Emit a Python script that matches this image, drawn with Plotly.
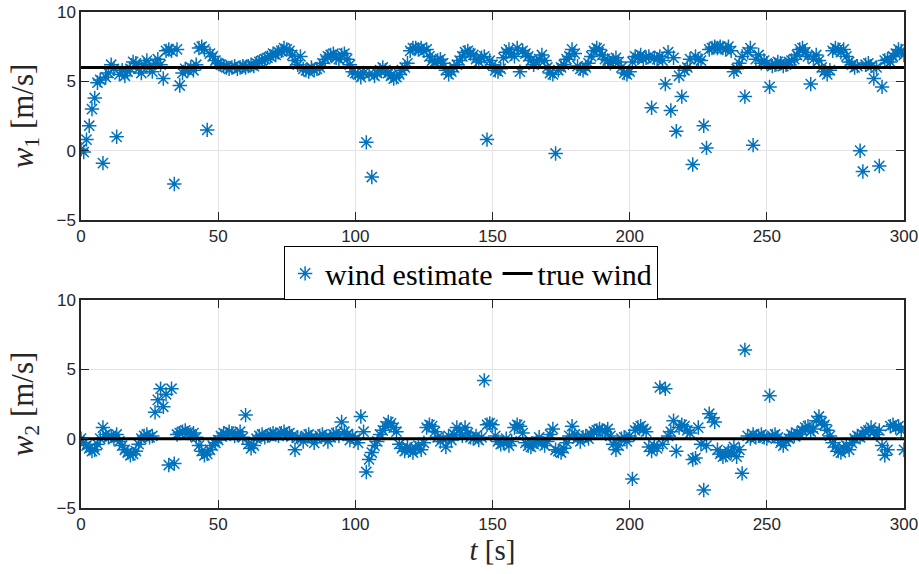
import plotly.graph_objects as go

t = list(range(0, 301))

w1_est = [
    0.1, -0.1, 0.8, 1.8, 3.0, 3.8, 4.9, 5.1, -0.9, 5.3,
    5.6, 6.2, 5.9, 1.0, 5.5, 5.8, 5.4, 5.7, 5.9, 6.4,
    6.3, 5.9, 5.6, 6.2, 6.5, 6.0, 5.7, 6.3, 6.6, 6.2,
    5.2, 7.2, 7.3, 7.2, -2.4, 7.3, 4.7, 5.6, 5.9, 5.8,
    6.0, 5.8, 6.2, 7.4, 7.5, 7.3, 1.5, 7.0, 6.8, 6.5,
    6.3, 6.2, 6.1, 6.0, 5.9, 6.0, 6.1, 5.9, 6.0, 6.1,
    6.0, 6.1, 6.2, 6.1, 6.3, 6.4, 6.5, 6.6, 6.7, 6.8,
    7.0, 6.9, 7.1, 7.2, 7.4, 7.3, 7.2, 6.9, 6.5, 6.2,
    6.8, 5.9, 5.8, 5.7, 6.0, 5.8, 5.9, 6.0, 6.3, 6.6,
    6.8, 6.9, 7.0, 6.7, 6.6, 6.9, 7.0, 6.6, 6.2, 5.7,
    5.6, 5.5, 5.3, 5.6, 0.6, 5.5, -1.9, 5.4, 5.6, 5.8,
    6.0, 5.8, 5.6, 5.4, 5.2, 5.3, 5.5, 5.8, 6.0, 6.3,
    7.2, 7.4, 7.4, 7.3, 7.4, 7.2, 7.3, 6.8, 6.5, 6.4,
    6.5, 6.6, 6.3, 5.8, 5.5, 5.7, 6.0, 6.2, 6.5, 6.8,
    7.1, 7.2, 7.0, 6.9, 6.6, 6.4, 6.7, 6.8, 0.8, 6.5,
    6.2, 5.8, 5.7, 5.9, 6.7, 7.1, 7.3, 7.0, 6.8, 7.4,
    5.7, 7.2, 7.0, 6.8, 6.5, 6.2, 6.4, 6.6, 6.9, 6.5,
    6.0, 5.6, 5.5, -0.2, 5.8, 6.0, 6.2, 6.6, 6.8, 7.3,
    7.0, 6.1, 5.9, 5.8, 6.0, 6.3, 6.8, 7.2, 7.4, 7.3,
    6.9, 6.6, 6.5, 6.3, 6.5, 6.7, 6.4, 6.0, 5.6, 5.5,
    5.7, 6.4, 6.8, 6.7, 6.9, 6.6, 6.7, 6.8, 3.1, 6.7,
    6.6, 6.8, 6.5, 4.8, 7.1, 2.9, 6.7, 1.4, 5.4, 3.9,
    5.8, 6.0, 6.6, -1.0, 6.8, 6.6, 6.5, 1.8, 0.2, 7.3,
    7.4, 7.5, 7.4, 7.5, 7.4, 7.3, 7.5, 7.2, 5.7, 5.9,
    6.3, 6.8, 3.9, 7.1, 7.4, 0.4, 6.6, 6.9, 6.3, 6.5,
    6.3, 4.6, 6.1, 6.2, 6.4, 6.3, 6.1, 6.2, 6.4, 6.5,
    6.6, 6.9, 7.3, 7.4, 7.1, 6.8, 4.8, 6.6, 6.9, 6.5,
    6.0, 5.7, 5.5, 5.8, 7.2, 7.4, 7.3, 7.1, 7.3, 6.8,
    6.4, 6.2, 6.0, 6.1, 0.0, -1.5, 6.2, 6.3, 6.1, 5.2,
    6.0, -1.1, 4.6, 6.5, 6.6, 6.4, 6.8, 7.0, 7.3, 7.2,
    6.9,
]

w2_est = [
    0.0, -0.3, -0.5, -0.7, -0.9, -0.8, -0.4, 0.0, 0.8, 0.3,
    0.1, 0.2, 0.0, 0.3, -0.2, -0.5, -0.8, -1.0, -1.2, -1.1,
    -0.9, -0.4, 0.0, 0.2, 0.3, 0.1, 0.2, 1.9, 2.8, 3.6,
    2.3, 3.2, -1.9, 3.6, -1.8, 0.3, 0.4, 0.5, 0.6, 0.4,
    0.3, 0.4, 0.1, -0.5, -0.9, -1.2, -1.1, -0.8, -0.5, -0.3,
    -0.1, 0.2, 0.4, 0.3, 0.5, 0.4, 0.2, 0.3, 0.5, 0.1,
    1.7, -0.4, -0.7, -0.5, 0.0, 0.2, 0.3, 0.1, 0.2, 0.3,
    0.4, 0.3, 0.2, 0.4, 0.5, 0.3, 0.4, 0.2, -0.8, 0.1,
    0.0, -0.2, 0.2, 0.3, 0.1, -0.3, 0.0, 0.2, 0.3, 0.1,
    -0.2, 0.1, 0.3, 0.4, 0.2, 1.2, 0.5, 0.3, -0.1, 0.2,
    0.0, -0.3, 1.6, 0.5, -2.4, -1.5, -1.0, -0.5, -0.2, 0.3,
    0.6, 0.9, 1.2, 1.1, 0.8, 0.5, -0.4, -0.7, -0.9, -0.6,
    -0.8, -1.0, -0.7, -0.5, -0.8, -0.3, 0.8, 1.0, 0.9, 0.5,
    0.1, -0.2, 0.0, -0.6, 0.2, -0.1, 0.3, 0.8, 0.6, 0.2,
    0.8, 0.4, 0.1, 0.0, 0.2, -0.1, 0.1, 4.2, 1.0, 1.1,
    1.0, 0.2, -0.2, -0.4, -0.3, 0.0, -0.5, -0.2, 0.8, 1.0,
    0.9, 0.4, -0.3, -0.5, -0.6, -0.4, -0.2, 0.1, -0.3, -0.5,
    -0.2, 0.3, 0.7, -0.8, -0.9, -1.0, -0.7, -0.3, 0.2, 0.9,
    0.3, 0.0, -0.2, 0.1, 0.2, 0.0, 0.3, 0.5, 0.6, 0.7,
    0.6, 0.5, 0.7, 0.2, -0.4, -0.8, -0.5, 0.0, 0.1, -0.2,
    0.2, -2.9, 0.6, 0.8, 0.9, 0.7, 0.5, -0.6, -0.9, -0.5,
    -0.7, 3.7, -0.4, 3.6, 0.2, 0.5, 1.3, -0.9, 0.8, 1.0,
    0.9, 0.6, 0.4, -1.5, -1.4, 0.8, -0.4, -3.7, -0.5, 1.8,
    1.5, 1.2, -0.8, -1.1, -1.3, -1.2, -0.9, -1.0, -0.6, -1.3,
    -0.8, -2.5, 6.4, 0.2, 0.0, 0.3, 0.1, 0.2, 0.3, 0.1,
    0.0, 3.1, 0.2, 0.3, 0.1, -0.3, -0.5, -0.2, 0.0, 0.3,
    0.2, 0.4, 0.3, 0.6, 0.8, 0.9, 0.5, 0.7, 1.3, 1.6,
    1.2, 1.0, 0.6, 0.2, -0.3, -0.6, -0.9, -1.0, -0.7, -0.5,
    -0.8, -0.3, 0.0, 0.2, 0.1, 0.3, 0.5, 0.6, 0.8, 0.5,
    0.3, 0.6, -0.5, -1.2, -0.8, 0.9, 1.0, 0.8, 0.9, 0.6,
    -0.8,
]

true_t = [0, 300]
w1_true = [6, 6]
w2_true = [0, 0]

x_ticks = [0, 50, 100, 150, 200, 250, 300]
y_ticks = [-5, 0, 5, 10]

BLUE = "#0072BD"
AX = "#262626"
SERIF = "Liberation Serif, Times New Roman, serif"
SANS = "Liberation Sans, Arial, sans-serif"

fig = go.Figure()

marker = dict(symbol="asterisk-open", size=12, color=BLUE, line=dict(color=BLUE, width=1.5))

fig.add_trace(go.Scatter(x=t, y=w1_est, mode="markers", marker=marker,
                         name="wind estimate", xaxis="x", yaxis="y", showlegend=True))
fig.add_trace(go.Scatter(x=true_t, y=w1_true, mode="lines", line=dict(color="black", width=3),
                         name="true wind", xaxis="x", yaxis="y", showlegend=True))
fig.add_trace(go.Scatter(x=t, y=w2_est, mode="markers", marker=marker,
                         name="wind estimate", xaxis="x2", yaxis="y2", showlegend=False))
fig.add_trace(go.Scatter(x=true_t, y=w2_true, mode="lines", line=dict(color="black", width=3),
                         name="true wind", xaxis="x2", yaxis="y2", showlegend=False))

xcommon = dict(range=[0, 300], tickvals=x_ticks, showgrid=True, gridcolor="#e3e3e3", gridwidth=1,
               showline=True, linecolor=AX, linewidth=1.5, mirror="ticks",
               ticks="inside", ticklen=8, tickwidth=1, tickcolor=AX, automargin=False,
               tickfont=dict(family=SANS, size=17, color=AX), zeroline=False)
ycommon = dict(range=[-5, 10], tickvals=y_ticks, showgrid=True, gridcolor="#e3e3e3", gridwidth=1,
               showline=True, linecolor=AX, linewidth=1.5, mirror="ticks",
               ticks="inside", ticklen=8, tickwidth=1, tickcolor=AX, automargin=False,
               tickfont=dict(family=SANS, size=17, color=AX), zeroline=False)

fig.update_layout(
    width=919, height=574,
    margin=dict(l=81, r=15, t=12, b=66),
    paper_bgcolor="white", plot_bgcolor="white",
    xaxis=dict(domain=[0, 1], anchor="y", **xcommon),
    yaxis=dict(domain=[0.5806, 1.0], anchor="x",
               title=dict(text="<i>w</i><sub>1</sub> [m/s]", font=dict(family=SERIF, size=31, color=AX), standoff=14),
               **ycommon),
    xaxis2=dict(domain=[0, 1], anchor="y2",
                title=dict(text="<i>t</i> [s]", font=dict(family=SERIF, size=29, color=AX), standoff=4),
                **xcommon),
    yaxis2=dict(domain=[0.0, 0.4194], anchor="x2",
                title=dict(text="<i>w</i><sub>2</sub> [m/s]", font=dict(family=SERIF, size=31, color=AX), standoff=14),
                **ycommon),
    legend=dict(orientation="h", x=0.474, y=0.473, xanchor="center", yanchor="middle",
                bordercolor="black", borderwidth=1, bgcolor="white",
                font=dict(family=SERIF, size=30, color="black"),
                itemwidth=30, tracegroupgap=0),
    showlegend=True,
)

fig.write_html("out.html")
